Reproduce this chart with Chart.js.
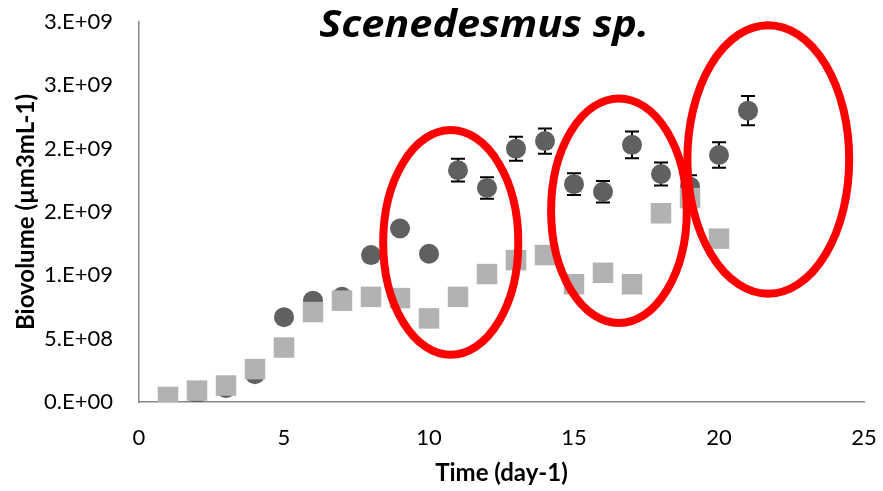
<!DOCTYPE html>
<html>
<head>
<meta charset="utf-8">
<script src="https://cdn.jsdelivr.net/npm/chart.js@4.4.1/dist/chart.umd.min.js"></script>
<style>
  html, body { margin: 0; padding: 0; background: #fff; }
  #wrap { width: 883px; height: 491px; }
</style>
</head>
<body>
<div id="wrap"><canvas id="myChart"></canvas></div>
<script>
// days of culture
var days = [1, 2, 3, 4, 5, 6, 7, 8, 9, 10, 11, 12, 13, 14, 15, 16, 17, 18, 19, 20, 21];
// dark circles (with error bars)
var seriesA = [3e7, 7e7, 1.1e8, 2.2e8, 6.7e8, 8.0e8, 8.3e8, 1.16e9, 1.37e9, 1.17e9, 1.83e9,
               1.69e9, 2.0e9, 2.06e9, 1.72e9, 1.66e9, 2.03e9, 1.80e9, 1.70e9, 1.95e9, 2.30e9];
var seriesAErr = [0, 0, 0, 0, 0, 0, 0, 0, 0, 0, 9e7,
                  8.5e7, 9.5e7, 1.0e8, 8.5e7, 8.5e7, 1.05e8, 9e7, 9e7, 1.0e8, 1.15e8];
// light squares
var seriesB = [4e7, 9e7, 1.3e8, 2.6e8, 4.3e8, 7.1e8, 8.0e8, 8.3e8, 8.2e8, 6.6e8, 8.3e8,
               1.01e9, 1.12e9, 1.16e9, 9.3e8, 1.02e9, 9.3e8, 1.49e9, 1.61e9, 1.29e9];
var yTickValues = [0, 5e8, 1e9, 1.5e9, 2e9, 2.5e9, 3e9];
var yTickLabels = ['0.E+00', '5.E+08', '1.E+09', '2.E+09', '2.E+09', '3.E+09', '3.E+09'];
var xTickValues = [0, 5, 10, 15, 20, 25];

// red ellipses drawn over the plot (centre x/y, half-width in days, half-height in biovolume)
var highlights = [
  { x: 10.75, y: 1.26e9, rx: 2.33, ry: 8.87e8 },
  { x: 16.55, y: 1.51e9, rx: 2.34, ry: 8.87e8 },
  { x: 21.7, y: 1.915e9, rx: 2.79, ry: 1.06e9 }
];

function toPoints(xs, ys) {
  return ys.map(function (v, i) { return { x: xs[i], y: v }; });
}

var errorBars = {
  id: 'errorBars',
  beforeDatasetsDraw: function (chart) {
    var ctx = chart.ctx, xs = chart.scales.x, ys = chart.scales.y;
    ctx.save();
    ctx.strokeStyle = '#000';
    ctx.lineWidth = 2;
    seriesA.forEach(function (v, i) {
      var e = seriesAErr[i];
      if (!e) return;
      var px = xs.getPixelForValue(days[i]);
      var top = ys.getPixelForValue(v + e), bot = ys.getPixelForValue(v - e);
      ctx.beginPath();
      ctx.moveTo(px, top); ctx.lineTo(px, bot);
      ctx.moveTo(px - 7, top); ctx.lineTo(px + 7, top);
      ctx.moveTo(px - 7, bot); ctx.lineTo(px + 7, bot);
      ctx.stroke();
    });
    ctx.restore();
  }
};

var overlay = {
  id: 'overlay',
  afterDatasetsDraw: function (chart) {
    var ctx = chart.ctx, xs = chart.scales.x, ys = chart.scales.y;
    ctx.save();
    ctx.strokeStyle = '#ff0000';
    ctx.lineWidth = 8;
    highlights.forEach(function (h) {
      var cx = xs.getPixelForValue(h.x), cy = ys.getPixelForValue(h.y);
      var rx = xs.getPixelForValue(h.x + h.rx) - cx;
      var ry = cy - ys.getPixelForValue(h.y + h.ry);
      ctx.beginPath();
      ctx.ellipse(cx, cy, rx, ry, 0, 0, Math.PI * 2);
      ctx.stroke();
    });
    // chart title, slightly widened like the original
    ctx.fillStyle = '#000';
    ctx.font = 'italic bold 37px "Open Sans"';
    ctx.textAlign = 'center';
    ctx.textBaseline = 'middle';
    ctx.translate(484, 26);
    ctx.scale(1.12, 1);
    ctx.fillText('Scenedesmus sp.', 0, 0);
    ctx.restore();
  }
};

var ctx = document.getElementById('myChart').getContext('2d');
var myChart = new Chart(ctx, {
  type: 'scatter',
  data: {
    datasets: [{
      label: 'B',
      data: toPoints(days, seriesB),
      pointStyle: 'rect',
      pointRadius: 14.5,
      pointBorderWidth: 0,
      backgroundColor: '#b2b2b2',
      borderColor: '#b2b2b2'
    },
    {
      label: 'A',
      data: toPoints(days, seriesA),
      pointStyle: 'circle',
      pointRadius: 10,
      pointBorderWidth: 0,
      backgroundColor: '#606060',
      borderColor: '#606060'
    }]
  },
  options: {
    responsive: true,
    maintainAspectRatio: false,
    animation: false,
    layout: { padding: { top: 22, right: 19, left: 0, bottom: 0 } },
    plugins: {
      legend: { display: false },
      tooltip: { enabled: false }
    },
    scales: {
      x: {
        type: 'linear',
        min: 0,
        max: 25,
        afterFit: function (s) { s.height = 89; },
        afterBuildTicks: function (s) { s.ticks = xTickValues.map(function (v) { return { value: v }; }); },
        grid: { display: false, drawTicks: true, tickLength: 23 },
        border: { display: true, color: '#868686', width: 1.5 },
        ticks: { color: '#000', padding: 0, font: { family: 'Lato', size: 22 } },
        title: {
          display: true,
          text: 'Time (day-1)',
          color: '#000',
          font: { family: 'Lato', size: 24, weight: 'bold' },
          padding: { top: 0, bottom: 3 }
        }
      },
      y: {
        min: 0,
        max: 3e9,
        afterFit: function (s) { s.width = 139; },
        afterBuildTicks: function (s) { s.ticks = yTickValues.map(function (v) { return { value: v }; }); },
        grid: { display: false, drawTicks: true, tickLength: 26 },
        border: { display: true, color: '#868686', width: 1.5 },
        ticks: {
          color: '#000',
          padding: 0,
          font: { family: 'Lato', size: 22 },
          callback: function (value) { return yTickLabels[yTickValues.indexOf(value)]; }
        },
        title: {
          display: true,
          text: 'Biovolume (µm3mL-1)',
          color: '#000',
          font: { family: 'Lato', size: 24, weight: 'bold' },
          padding: { top: 12, bottom: 0 }
        }
      }
    }
  },
  plugins: [errorBars, overlay]
});
</script>
</body>
</html>
